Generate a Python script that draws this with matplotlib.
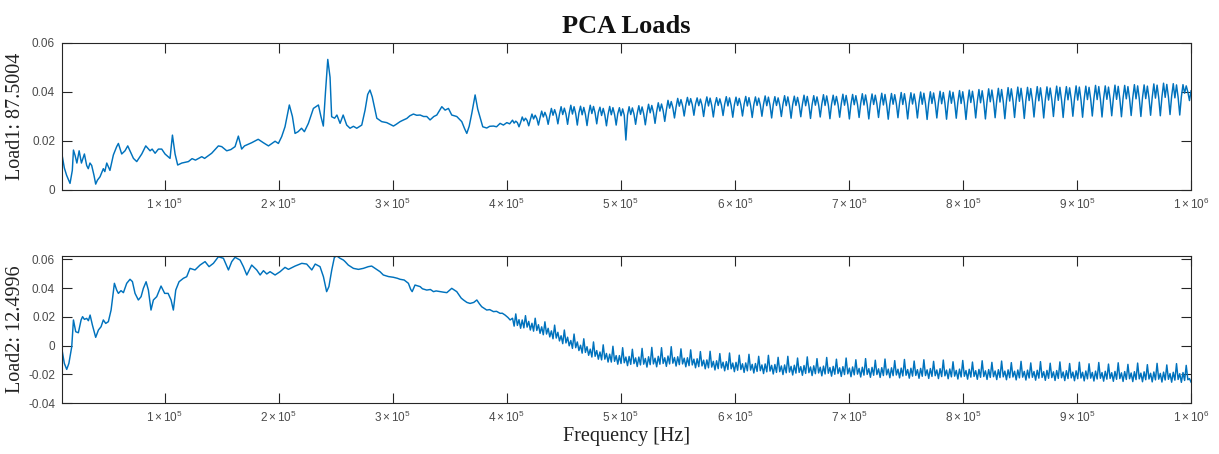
import numpy as np
import matplotlib
matplotlib.use("Agg")
import matplotlib.pyplot as plt

# ---------------- data ----------------
# low-frequency part: (frequency in kHz, load value)
load1_low_band = [
    (10, .0143), (12, .0090), (14, .0060), (17, .0027), (19, .0080), (20, .0163), (21.5, .0140),
    (23, .0110), (25, .0160), (27, .0110), (29.6, .0147), (31.6, .0100), (33, .0087), (34.5, .0110),
    (36, .0100), (38, .0060), (39.5, .0024), (41, .0040), (43.3, .0054), (46.2, .0087), (47.5, .0075),
    (49.2, .0110), (52, .0080), (55, .0143), (57.9, .0177), (59.4, .0190), (62.3, .0147), (65.2, .0160),
    (67.6, .0180), (69.6, .0160), (72.6, .0129), (75.5, .0116), (79.9, .0147), (83.4, .0180), (87.2, .0160),
    (89, .0167), (91.6, .0150), (94.5, .0167), (97.4, .0167), (100.3, .0147), (104.7, .0129), (106.8, .0224),
    (109.1, .0147), (111.4, .0102), (115, .0110), (120.8, .0116), (124, .0128), (127, .0122), (132.5, .0136),
    (135, .0129), (141.2, .0150), (147.1, .0180), (150, .0177), (154.4, .0160), (158, .0165), (161.7, .0177),
    (164.6, .0220), (167.5, .0167), (170, .0180), (176.3, .0193), (182, .0207), (186.5, .0193), (191, .0180),
    (196.8, .0199), (199.7, .0190), (202.6, .0218), (205.5, .0258), (209.3, .0347), (212, .0300), (214.3, .0231),
    (217, .0238), (220, .0252), (222.5, .0238), (226, .0272), (230.4, .0333), (234.8, .0347), (237, .0300),
    (239.1, .0261), (241, .0400), (243, .0533), (245, .0460), (246.4, .0299), (249, .0293), (251, .0306),
    (253.8, .0272), (256.5, .0306), (259.6, .0265), (262.5, .0252), (265.5, .0260), (268.4, .0252), (272.8, .0265),
    (275.7, .0326), (278, .0390), (280, .0408), (282, .0380), (286, .0293), (290.3, .0279), (294.7, .0275),
    (300.6, .0261), (303, .0268), (306.4, .0279), (309, .0285), (312.3, .0292), (315, .0303), (318.1, .0310),
    (321, .0305), (324, .0306), (327, .0300), (329.8, .0300), (332.7, .0286), (336, .0300), (338.6, .0306),
    (343, .0340), (345.9, .0326), (348.8, .0333), (351.7, .0306), (356.1, .0300), (360.5, .0279), (363, .0250),
    (364.9, .0231), (367, .0260), (369.3, .0313), (372.2, .0388), (374.5, .0330), (378.9, .0258), (382.4, .0253),
    (385, .0260), (388.3, .0261), (391, .0258), (394.1, .0272), (397, .0265), (400, .0275), (402.5, .0270),
]

load2_low_band = [
    (10, -.0031), (12, -.0124), (14.1, -.0166), (16, -.0124), (18.5, -.0008), (20, .0178), (22, .0096),
    (24.3, .0089), (26.7, .0178), (28, .0201), (29.6, .0182), (31.6, .0189), (33.1, .0173), (34.6, .0212),
    (36.6, .0143), (39.5, .0057), (41.9, .0108), (44.2, .0131), (46.2, .0178), (48.3, .0154), (50.6, .0166),
    (53, .0247), (55.9, .0433), (57.9, .0386), (59.4, .0363), (61.7, .0382), (63.8, .0368), (66.7, .0433),
    (69.6, .0461), (71.7, .0445), (74, .0363), (76.9, .0317), (79.3, .0340), (81.3, .0398), (83.7, .0444),
    (85.7, .0386), (88, .0247), (90.1, .0317), (93, .0340), (96.8, .0414), (100, .0363), (103, .0363),
    (105.6, .0317), (107.6, .0247), (109.7, .0386), (112.6, .0444), (116.4, .0468), (119.3, .0479),
    (122.2, .0537), (126.6, .0526), (131, .0560), (135.4, .0584), (138.9, .0549), (142.7, .0572),
    (147.1, .0618), (151.5, .0607), (155.9, .0526), (158.8, .0584), (161.7, .0614), (166.1, .0595),
    (169, .0549), (172, .0491), (176.3, .0560), (180.7, .0526), (183.7, .0491), (186.6, .0521), (189.5, .0498),
    (192.4, .0514), (196.8, .0491), (201.2, .0514), (205.5, .0544), (208.5, .0530), (214.3, .0553),
    (220.2, .0572), (224.5, .0567), (229, .0526), (232, .0567), (236.2, .0549), (239.2, .0479), (242, .0375),
    (244, .0410), (246.5, .0526), (248.8, .0614), (251, .0623), (253.8, .0607), (256.7, .0595), (258.2, .0584),
    (261, .0560), (265.5, .0537), (269.9, .0530), (274.2, .0537), (278.6, .0549), (281.5, .0553), (284.5, .0537),
    (288.8, .0514), (291.7, .0491), (296.2, .0480), (300.5, .0475), (304, .0468), (306.4, .0461), (310, .0456),
    (313.7, .0433), (315.7, .0391), (317, .0375), (319.5, .0421), (324, .0410), (326, .0395), (329.8, .0386),
    (333, .0390), (335.7, .0375), (338, .0380), (341.5, .0375), (344, .0372), (347.4, .0368), (351.7, .0398),
    (356.1, .0375), (360, .0330), (362, .0317), (365, .0300), (367.8, .0293), (371, .0300), (373.7, .0317),
    (376, .0290), (378, .0270), (382.4, .0247), (385, .0250), (388.3, .0236), (391, .0238), (394.1, .0224),
    (396, .0225), (398.5, .0212), (401, .0195), (402.9, .0178),
]

# high-frequency part: evenly spaced frequency bins from 405 kHz to 1000 kHz,
# values in units of 1e-4 (one row = one ripple of about 8.5 kHz)
hf_start_khz, hf_stop_khz = 405, 1000
load1_hf_e4 = [
    285, 273, 281, 275, 258, 276,
    298, 282, 293, 284, 262, 287,
    310, 290, 305, 292, 265, 295,
    322, 298, 317, 300, 268, 303,
    333, 305, 328, 307, 270, 310,
    340, 308, 334, 310, 268, 313,
    346, 310, 340, 312, 265, 315,
    342, 307, 337, 309, 263, 312,
    346, 312, 341, 314, 270, 317,
    338, 304, 333, 306, 262, 309,
    341, 307, 336, 309, 265, 312,
    336, 303, 331, 305, 204, 306,
    340, 308, 335, 310, 268, 313,
    344, 309, 339, 311, 266, 314,
    350, 315, 345, 317, 272, 320,
    356, 322, 351, 324, 280, 327,
    366, 334, 361, 336, 294, 339,
    374, 342, 369, 344, 302, 347,
    378, 346, 373, 348, 305, 351,
    376, 344, 371, 346, 300, 349,
    380, 343, 375, 345, 298, 348,
    377, 345, 372, 347, 304, 350,
    381, 343, 376, 345, 297, 348,
    379, 345, 374, 347, 302, 350,
    382, 343, 377, 345, 296, 348,
    380, 345, 375, 347, 301, 350,
    384, 344, 379, 346, 294, 349,
    381, 345, 376, 347, 300, 350,
    385, 344, 380, 346, 293, 349,
    383, 345, 378, 347, 299, 350,
    387, 344, 382, 346, 292, 349,
    385, 346, 380, 348, 298, 351,
    389, 345, 384, 347, 291, 350,
    387, 347, 382, 349, 297, 352,
    391, 346, 386, 348, 290, 351,
    390, 348, 385, 350, 296, 353,
    393, 347, 388, 349, 290, 352,
    392, 349, 387, 351, 296, 354,
    395, 347, 390, 349, 289, 352,
    394, 350, 389, 352, 295, 355,
    398, 349, 393, 351, 290, 354,
    397, 351, 392, 353, 294, 356,
    400, 350, 395, 352, 288, 355,
    401, 353, 396, 355, 294, 358,
    403, 352, 398, 354, 289, 357,
    404, 354, 399, 356, 293, 359,
    406, 353, 401, 355, 288, 358,
    408, 357, 403, 359, 294, 362,
    410, 356, 405, 358, 290, 361,
    413, 360, 408, 362, 295, 365,
    415, 359, 410, 361, 291, 364,
    418, 363, 413, 365, 296, 368,
    420, 362, 415, 364, 292, 367,
    419, 365, 414, 367, 298, 370,
    422, 364, 417, 366, 294, 369,
    421, 367, 416, 369, 300, 372,
    424, 366, 419, 368, 296, 371,
    422, 368, 417, 370, 301, 373,
    425, 367, 420, 369, 297, 372,
    424, 369, 419, 371, 302, 374,
    427, 369, 422, 371, 298, 374,
    425, 370, 420, 372, 303, 375,
    428, 370, 423, 372, 299, 375,
    427, 372, 422, 374, 304, 377,
    430, 372, 425, 374, 300, 377,
    429, 373, 424, 375, 305, 378,
    433, 375, 428, 377, 303, 380,
    436, 378, 431, 380, 308, 383,
    434, 376, 429, 378, 306, 381,
    430, 395, 425, 400, 365, 405,
]
load2_hf_e4 = [
    190, 135, 220, 140, 180, 120,
    178, 123, 208, 128, 168, 108,
    155, 100, 190, 105, 145, 85,
    130, 75, 165, 80, 120, 60,
    102, 47, 142, 52, 92, 32,
    68, 13, 108, 18, 58, -2,
    35, -20, 80, -15, 25, -35,
    2, -53, 47, -48, -8, -68,
    -25, -80, 25, -75, -35, -95,
    -45, -100, 5, -95, -55, -115,
    -60, -115, -5, -110, -70, -130,
    -70, -125, -15, -120, -80, -140,
    -76, -131, -26, -126, -86, -146,
    -80, -135, -20, -130, -90, -150,
    -78, -133, -13, -128, -88, -148,
    -75, -130, -15, -125, -85, -145,
    -73, -128, -8, -123, -83, -143,
    -78, -133, -23, -128, -88, -148,
    -85, -140, -30, -135, -95, -155,
    -92, -147, -42, -142, -102, -162,
    -100, -155, -40, -150, -110, -170,
    -106, -161, -56, -156, -116, -176,
    -112, -167, -52, -162, -122, -182,
    -117, -172, -67, -167, -127, -187,
    -121, -176, -61, -171, -131, -191,
    -125, -180, -75, -175, -135, -195,
    -128, -183, -68, -178, -138, -198,
    -132, -187, -82, -182, -142, -202,
    -135, -190, -75, -185, -145, -205,
    -137, -192, -87, -187, -147, -207,
    -139, -194, -79, -189, -149, -209,
    -141, -196, -91, -191, -151, -211,
    -143, -198, -83, -193, -153, -213,
    -145, -200, -95, -195, -155, -215,
    -147, -202, -87, -197, -157, -217,
    -149, -204, -99, -199, -159, -219,
    -151, -206, -91, -201, -161, -221,
    -152, -207, -102, -202, -162, -222,
    -154, -209, -94, -204, -164, -224,
    -155, -210, -105, -205, -165, -225,
    -157, -212, -97, -207, -167, -227,
    -158, -213, -108, -208, -168, -228,
    -159, -214, -99, -209, -169, -229,
    -160, -215, -110, -210, -170, -230,
    -161, -216, -101, -211, -171, -231,
    -163, -218, -113, -213, -173, -233,
    -164, -219, -104, -214, -174, -234,
    -165, -220, -115, -215, -175, -235,
    -166, -221, -106, -216, -176, -236,
    -167, -222, -117, -217, -177, -237,
    -168, -223, -108, -218, -178, -238,
    -169, -224, -119, -219, -179, -239,
    -170, -225, -110, -220, -180, -240,
    -171, -226, -121, -221, -181, -241,
    -172, -227, -112, -222, -182, -242,
    -173, -228, -123, -223, -183, -243,
    -174, -229, -114, -224, -184, -244,
    -175, -230, -125, -225, -185, -245,
    -176, -231, -116, -226, -186, -246,
    -177, -232, -127, -227, -187, -247,
    -178, -233, -118, -228, -188, -248,
    -179, -234, -129, -229, -189, -249,
    -180, -235, -120, -230, -190, -250,
    -181, -236, -131, -231, -191, -251,
    -182, -237, -122, -232, -192, -252,
    -183, -238, -133, -233, -193, -253,
    -184, -239, -124, -234, -194, -254,
    -185, -240, -135, -235, -195, -255,
    -186, -241, -126, -236, -196, -256,
    -188, -243, -138, -238, -230, -255,
]

title = "PCA Loads"
ylabel1 = "Load1: 87.5004"
ylabel2 = "Load2: 12.4996"
xlabel = "Frequency [Hz]"
xtick_values = [1e5, 2e5, 3e5, 4e5, 5e5, 6e5, 7e5, 8e5, 9e5, 1e6]
xtick_labels = [r"$\mathregular{%d\times10^{%d}}$" % (m, e) for m, e in
                [(1, 5), (2, 5), (3, 5), (4, 5), (5, 5), (6, 5), (7, 5), (8, 5), (9, 5), (1, 6)]]
ytick1_values = [0, 0.02, 0.04, 0.06]
ytick1_labels = ["0", "0.02", "0.04", "0.06"]
ytick2_values = [-0.04, -0.02, 0, 0.02, 0.04, 0.06]
ytick2_labels = ["-0.04", "-0.02", "0", "0.02", "0.04", "0.06"]

# ---------------- build series ----------------
def build(low, hf_e4):
    f_low = np.array([p[0] for p in low]) * 1e3
    v_low = np.array([p[1] for p in low])
    f_hf = np.linspace(hf_start_khz, hf_stop_khz, len(hf_e4)) * 1e3
    v_hf = np.array(hf_e4) * 1e-4
    return np.concatenate([f_low, f_hf]), np.concatenate([v_low, v_hf])

f1, y1 = build(load1_low_band, load1_hf_e4)
f2, y2 = build(load2_low_band, load2_hf_e4)

# ---------------- style ----------------
plt.rcParams["font.family"] = ["Liberation Sans", "DejaVu Sans"]
plt.rcParams["mathtext.fontset"] = "custom"
plt.rcParams["mathtext.rm"] = "Liberation Sans"
plt.rcParams["mathtext.it"] = "Liberation Sans:italic"
plt.rcParams["mathtext.bf"] = "Liberation Sans:bold"

line_color = "#0072BD"
axis_color = "#262626"
tick_label_color = "#4a4a4a"
serif = ["Liberation Serif", "DejaVu Serif"]

fig = plt.figure(figsize=(12.19, 4.54), dpi=100)
ax1 = fig.add_axes([0.0509, 0.5815, 0.9262, 0.3238])
ax2 = fig.add_axes([0.0509, 0.1123, 0.9262, 0.3238])

for ax, f, y, yt, ytl, ylim, yl in [
    (ax1, f1, y1, ytick1_values, ytick1_labels, (0, 0.06), ylabel1),
    (ax2, f2, y2, ytick2_values, ytick2_labels, (-0.04, 0.0623), ylabel2),
]:
    ax.plot(f, y, color=line_color, lw=1.05)
    ax.set_xlim(1e4, 1e6)
    ax.set_ylim(*ylim)
    ax.set_xticks(xtick_values)
    ax.set_xticklabels(xtick_labels)
    ax.set_yticks(yt)
    ax.set_yticklabels(ytl)
    ax.tick_params(direction="in", length=7.5, width=0.8, top=True, right=True,
                   color=axis_color, labelcolor=tick_label_color, labelsize=8.5, pad=5)
    for s in ax.spines.values():
        s.set_color(axis_color)
        s.set_linewidth(0.8)
    ax.set_ylabel(yl, fontsize=14.5, family=serif, color="#222222")
    ax.yaxis.set_label_coords(-0.033, 0.5)

ax1.set_title(title, fontsize=19, fontweight="bold", family=serif, pad=7, color="#111111")
ax2.set_xlabel(xlabel, fontsize=14.5, family=serif, color="#222222")
ax2.xaxis.set_label_coords(0.5, -0.165)

fig.savefig("out.png", dpi=100)
